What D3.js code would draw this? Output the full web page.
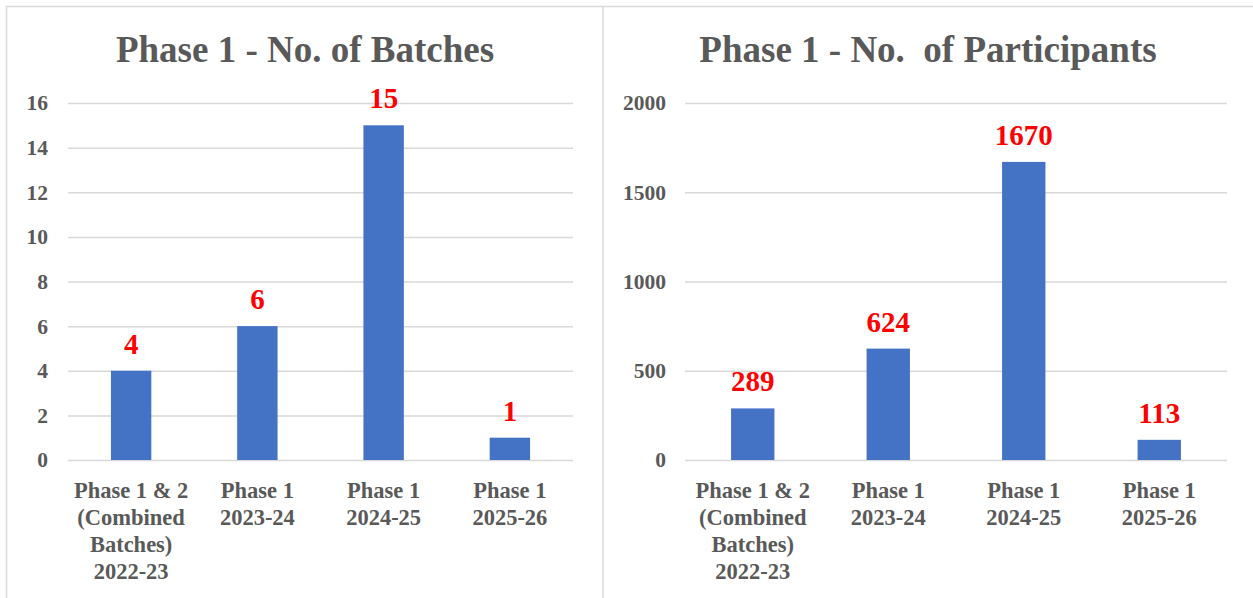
<!DOCTYPE html>
<style>
    body {
        margin: 0;
        background: #fff;
    }
    svg text {
        font-family: "Liberation Serif", "Times New Roman", "DejaVu Serif", serif;
    }
    .grid line { stroke: #d9d9d9; stroke-width: 1.5; }
    .grid .domain { display: none; }
    .axis .domain { display: none; }
    .axis line { display: none; }
</style>
<svg width="1253" height="598"></svg>
<script src="https://d3js.org/d3.v7.min.js"></script>
<script>
    // data
    var categories = [
        ["Phase 1 & 2", "(Combined", "Batches)", "2022-23"],
        ["Phase 1", "2023-24"],
        ["Phase 1", "2024-25"],
        ["Phase 1", "2025-26"]
    ];
    var catKeys = ["c1", "c2", "c3", "c4"];
    var batches = [4, 6, 15, 1];
    var participants = [289, 624, 1670, 113];
    var batchTicks = [0, 2, 4, 6, 8, 10, 12, 14, 16];
    var partTicks = [0, 500, 1000, 1500, 2000];

    var serif = "'Liberation Serif', 'Times New Roman', serif";
    var svg = d3.select("svg");

    // panel borders
    svg.append("rect")
        .attr("x", 6.5).attr("y", 6.5)
        .attr("width", 1260).attr("height", 620)
        .attr("fill", "none").attr("stroke", "#d9d9d9").attr("stroke-width", 1.5);
    svg.append("line")
        .attr("x1", 603).attr("x2", 603).attr("y1", 6).attr("y2", 598)
        .attr("stroke", "#d9d9d9").attr("stroke-width", 1.5);

    function drawChart(opts) {
        var g = svg.append("g");

        var x = d3.scaleBand()
            .domain(catKeys)
            .range([opts.left, opts.right])
            .paddingInner(0.68)
            .paddingOuter(0.34);

        var y = d3.scaleLinear()
            .domain([0, opts.max])
            .range([460, 103]);

        // title
        g.append("text")
            .attr("x", opts.titleX)
            .attr("y", 62)
            .attr("text-anchor", "middle")
            .attr("fill", "#595959")
            .attr("font-family", serif)
            .attr("font-size", "37px")
            .attr("font-weight", "bold")
            .style("white-space", "pre")
            .text(opts.title);

        // gridlines
        g.append("g")
            .attr("class", "grid")
            .attr("transform", "translate(" + opts.left + ",0)")
            .call(d3.axisRight(y).tickValues(opts.ticks).tickSize(opts.right - opts.left).tickFormat(""));

        // y axis labels
        g.append("g")
            .attr("class", "axis")
            .attr("transform", "translate(" + opts.labelX + ",0)")
            .call(d3.axisLeft(y).tickValues(opts.ticks).tickSize(0).tickPadding(0).tickFormat(d3.format("d")))
            .attr("font-family", serif)
            .selectAll("text")
            .attr("fill", "#595959")
            .attr("font-size", "21.5px")
            .attr("font-weight", "bold");

        // bars
        g.selectAll(".bar")
            .data(opts.values)
            .enter().append("rect")
            .attr("class", "bar")
            .attr("x", function(d, i) { return x(catKeys[i]); })
            .attr("y", function(d) { return y(d); })
            .attr("width", x.bandwidth())
            .attr("height", function(d) { return y(0) - y(d); })
            .attr("fill", "#4472c4");

        // value labels
        g.selectAll(".val")
            .data(opts.values)
            .enter().append("text")
            .attr("class", "val")
            .attr("x", function(d, i) { return x(catKeys[i]) + x.bandwidth() / 2; })
            .attr("y", function(d) { return y(d) - 17; })
            .attr("text-anchor", "middle")
            .attr("fill", "#ff0000")
            .attr("font-family", serif)
            .attr("font-size", "29px")
            .attr("font-weight", "bold")
            .text(function(d) { return d; });

        // category labels
        var cat = g.selectAll(".cat")
            .data(categories)
            .enter().append("text")
            .attr("class", "cat")
            .attr("text-anchor", "middle")
            .attr("fill", "#595959")
            .attr("font-family", serif)
            .attr("font-size", "22.5px")
            .attr("font-weight", "bold");
        cat.each(function(lines, i) {
            var t = d3.select(this);
            var cx = x(catKeys[i]) + x.bandwidth() / 2;
            lines.forEach(function(l, j) {
                t.append("tspan")
                    .attr("x", cx)
                    .attr("y", 498 + j * 27)
                    .text(l);
            });
        });
    }

    drawChart({
        title: "Phase 1 - No. of Batches",
        titleX: 305,
        left: 68, right: 573, labelX: 48,
        max: 16, ticks: batchTicks, values: batches
    });

    drawChart({
        title: "Phase 1 - No.  of Participants",
        titleX: 928,
        left: 685, right: 1227, labelX: 666,
        max: 2000, ticks: partTicks, values: participants
    });
</script>
